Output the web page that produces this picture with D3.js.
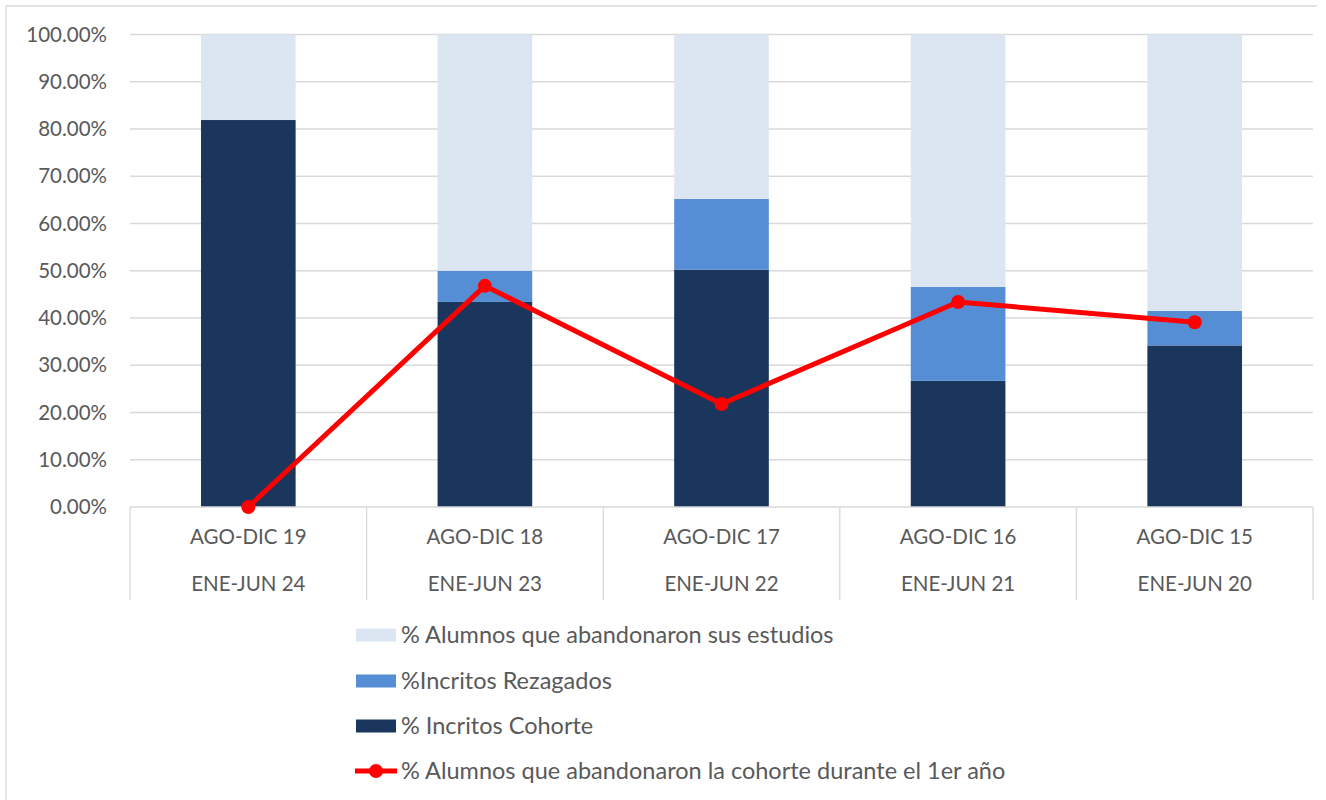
<!DOCTYPE html>
<html><head><meta charset="utf-8">
<script src="https://cdn.jsdelivr.net/npm/d3@7"></script>
<style>body{margin:0;background:#fff}svg{display:block}text{font-family:Lato,"Open Sans",sans-serif;fill:#595959}</style>
</head><body>
<script>
const categoriesTop = ["AGO-DIC 19","AGO-DIC 18","AGO-DIC 17","AGO-DIC 16","AGO-DIC 15"];
const categoriesBottom = ["ENE-JUN 24","ENE-JUN 23","ENE-JUN 22","ENE-JUN 21","ENE-JUN 20"];
const cohorte = [0.819, 0.434, 0.502, 0.267, 0.342];
const rezagados = [0.0, 0.066, 0.150, 0.199, 0.073];
const abandonaron = [0.181, 0.500, 0.348, 0.534, 0.585];
const abandonoPrimerAnio = [0.0, 0.468, 0.218, 0.434, 0.391];
const yTicks = [0,0.1,0.2,0.3,0.4,0.5,0.6,0.7,0.8,0.9,1.0];
const seriesNames = ["% Alumnos que abandonaron sus estudios","%Incritos Rezagados","% Incritos Cohorte","% Alumnos que abandonaron la cohorte durante el 1er año"];

(function(){
const W=1326,H=800;
const svg=d3.select("body").append("svg").attr("width",W).attr("height",H);
// frame
svg.append("line").attr("x1",6).attr("x2",1317).attr("y1",6).attr("y2",6).attr("stroke","#d9d9d9").attr("stroke-width",1.3);
svg.append("line").attr("x1",6).attr("x2",6).attr("y1",6).attr("y2",800).attr("stroke","#d9d9d9").attr("stroke-width",1.3);

const pLeft=130,pRight=1313,pTop=34.5,pBottom=507;
const x=d3.scaleBand().domain(categoriesTop).range([pLeft,pRight]).paddingInner(0.6).paddingOuter(0.3);
const xb=d3.scaleBand().domain(categoriesTop).range([pLeft,pRight]);
const y=d3.scaleLinear().domain([0,1]).range([pBottom,pTop]);
const fs="20.5px";

// gridlines
svg.append("g").selectAll("line").data(yTicks.filter(d=>d>0)).join("line")
  .attr("x1",pLeft).attr("x2",pRight).attr("y1",d=>y(d)).attr("y2",d=>y(d))
  .attr("stroke","#d9d9d9").attr("stroke-width",1.3);
// y labels
svg.append("g").selectAll("text").data(yTicks).join("text")
  .attr("x",107).attr("y",d=>y(d)).attr("dy","0.35em").attr("text-anchor","end")
  .style("font-size",fs).text(d=>d3.format(".2%")(d));

// stacked data
const rows=categoriesTop.map((c,i)=>({cat:c,cohorte:cohorte[i],rezagados:rezagados[i],abandonaron:abandonaron[i]}));
const keys=["cohorte","rezagados","abandonaron"];
const colors={cohorte:"#1a365d",rezagados:"#558ed5",abandonaron:"#dce6f2"};
const stack=d3.stack().keys(keys)(rows);
svg.append("g").selectAll("g").data(stack).join("g").attr("fill",d=>colors[d.key])
  .selectAll("rect").data(d=>d).join("rect")
  .attr("x",d=>x(d.data.cat)).attr("width",x.bandwidth())
  .attr("y",d=>y(d[1])).attr("height",d=>Math.max(0,y(d[0])-y(d[1])));

// category axis box
const ax=svg.append("g").attr("stroke","#d9d9d9").attr("stroke-width",1.3);
ax.append("line").attr("x1",pLeft).attr("x2",pRight).attr("y1",pBottom).attr("y2",pBottom);
const seps=categoriesTop.map(c=>xb(c)).concat([pRight]);
ax.selectAll("line.sep").data(seps).join("line").attr("class","sep")
  .attr("x1",d=>d).attr("x2",d=>d).attr("y1",pBottom).attr("y2",600);
svg.append("g").selectAll("text").data(categoriesTop).join("text")
  .attr("x",d=>xb(d)+xb.bandwidth()/2).attr("y",537).attr("dy","0.35em").attr("text-anchor","middle")
  .style("font-size",fs).text(d=>d);
svg.append("g").selectAll("text").data(categoriesBottom).join("text")
  .attr("x",(d,i)=>xb(categoriesTop[i])+xb.bandwidth()/2).attr("y",584).attr("dy","0.35em").attr("text-anchor","middle")
  .style("font-size",fs).text(d=>d);

// line
const cx=i=>x(categoriesTop[i])+x.bandwidth()/2;
const line=d3.line().x((d,i)=>cx(i)).y(d=>y(d));
svg.append("path").datum(abandonoPrimerAnio).attr("d",line).attr("fill","none")
  .attr("stroke","#ff0000").attr("stroke-width",5).attr("stroke-linejoin","round");
svg.append("g").selectAll("circle").data(abandonoPrimerAnio).join("circle")
  .attr("cx",(d,i)=>cx(i)).attr("cy",d=>y(d)).attr("r",7).attr("fill","#ff0000");

// legend
const legY=[635,681,726,771];
const lg=svg.append("g");
[["abandonaron",0],["rezagados",1],["cohorte",2]].forEach(([k,i])=>{
  lg.append("rect").attr("x",356).attr("y",legY[i]-6.5).attr("width",40).attr("height",13).attr("fill",colors[k]);
});
lg.append("line").attr("x1",355).attr("x2",397).attr("y1",legY[3]).attr("y2",legY[3]).attr("stroke","#ff0000").attr("stroke-width",5);
lg.append("circle").attr("cx",376).attr("cy",legY[3]).attr("r",7).attr("fill","#ff0000");
lg.selectAll("text").data(seriesNames).join("text")
  .attr("x",401).attr("y",(d,i)=>legY[i]).attr("dy","0.35em").style("font-size","23.5px").text(d=>d);
})();
</script>
</body></html>
